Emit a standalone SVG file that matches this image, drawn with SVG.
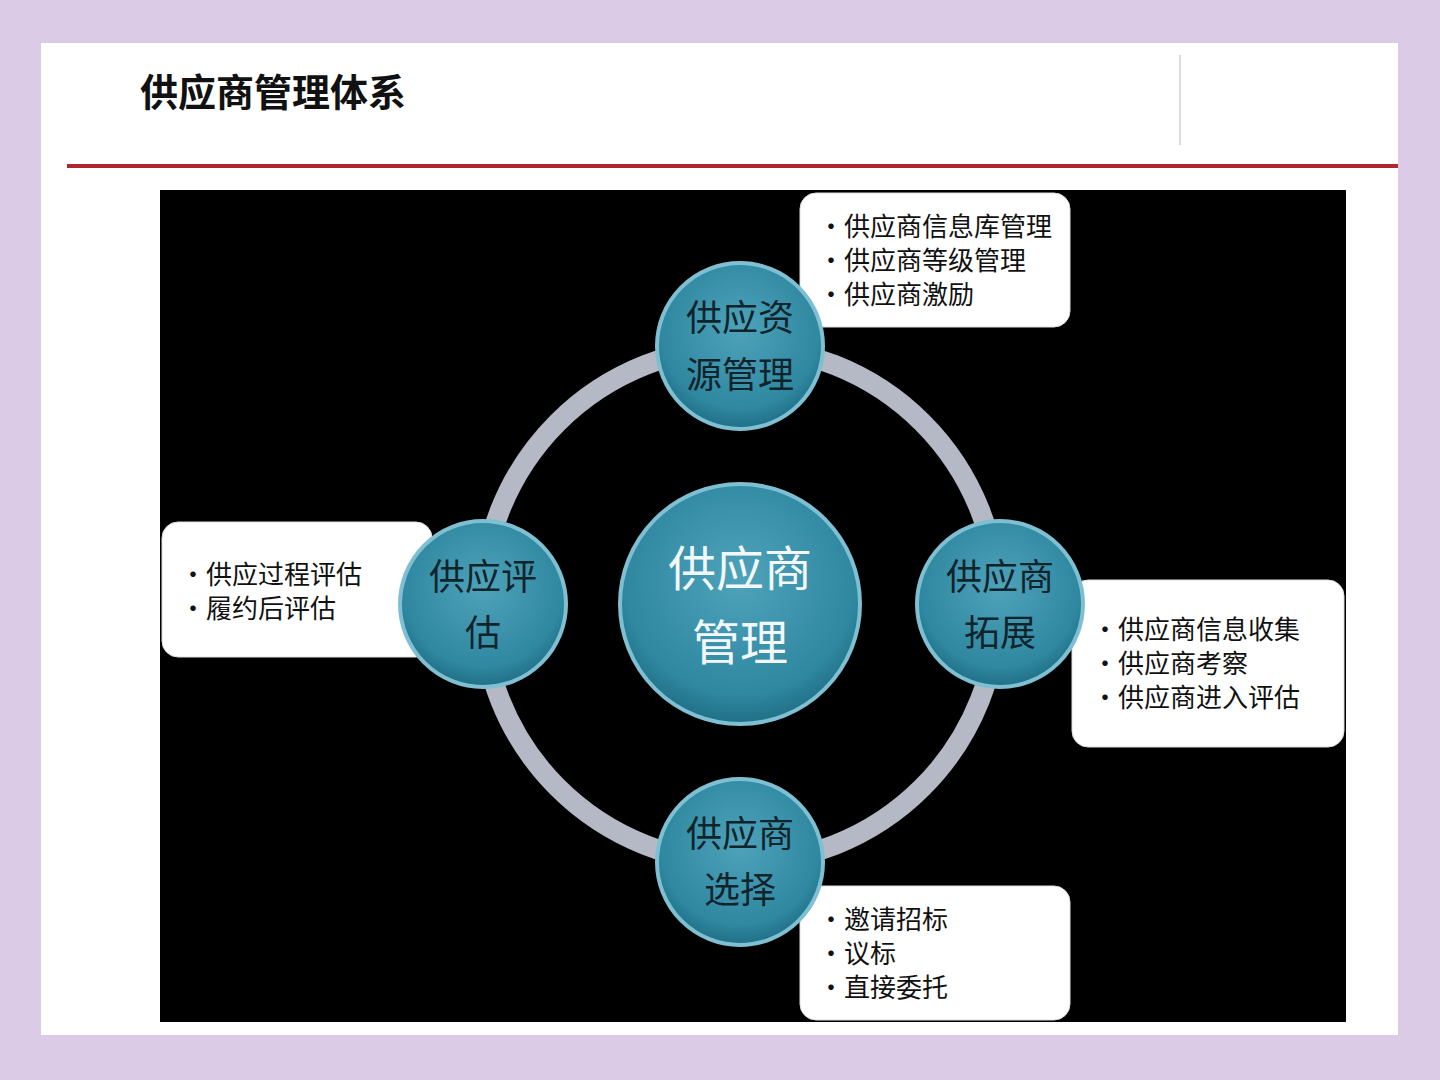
<svg xmlns="http://www.w3.org/2000/svg" width="1440" height="1080" viewBox="0 0 1440 1080">
<style>
.box{fill:#fff;stroke:#ddd;stroke-width:1}
.bt{font-family:"Noto Sans CJK SC",sans-serif;font-size:26px;fill:#111}
.ct{font-family:"Noto Sans CJK SC",sans-serif;font-size:36px;fill:#10242c;text-anchor:middle}
.node{fill:url(#g);stroke:#7fbfd2;stroke-width:4}
</style>
<defs>
<radialGradient id="g" cx="0.5" cy="0.4" r="0.6">
<stop offset="0" stop-color="#4ea3ba"/><stop offset="0.8" stop-color="#2f87a0"/><stop offset="1" stop-color="#1f6f86"/>
</radialGradient>
</defs>
<rect width="1440" height="1080" fill="#dccbe6"/>
<rect x="41" y="43" width="1357" height="992" fill="#fff"/>
<text x="140" y="106" font-family="Noto Sans CJK SC,sans-serif" font-size="38" font-weight="bold" fill="#111">供应商管理体系</text>
<line x1="1180" y1="55" x2="1180" y2="145" stroke="#ddd" stroke-width="2"/>
<line x1="67" y1="166" x2="1398" y2="166" stroke="#b0262c" stroke-width="4"/>
<rect x="160" y="190" width="1186" height="832" fill="#000"/>
<g id="connectors">
<circle cx="740" cy="605" r="258" fill="none" stroke="#b5b9c6" stroke-width="20"/>
</g>
<g id="box-top"><rect class="box" x="800" y="193" width="270" height="134" rx="16"/>
<text class="bt" x="818" y="236">•供应商信息库管理</text><text class="bt" x="818" y="270">•供应商等级管理</text><text class="bt" x="818" y="304">•供应商激励</text></g>
<g id="box-left"><rect class="box" x="162" y="522" width="270" height="135" rx="16"/>
<text class="bt" x="180" y="584">•供应过程评估</text><text class="bt" x="180" y="618">•履约后评估</text></g>
<g id="box-right"><rect class="box" x="1072" y="580" width="272" height="167" rx="16"/>
<text class="bt" x="1092" y="639">•供应商信息收集</text><text class="bt" x="1092" y="673">•供应商考察</text><text class="bt" x="1092" y="707">•供应商进入评估</text></g>
<g id="box-bottom"><rect class="box" x="800" y="886" width="270" height="134" rx="16"/>
<text class="bt" x="818" y="929">•邀请招标</text><text class="bt" x="818" y="963">•议标</text><text class="bt" x="818" y="997">•直接委托</text></g>
<g id="center"><circle class="node" cx="740" cy="604" r="120"/>
<text class="ct" x="740" y="586" font-size="48" fill="#fff" style="font-size:48px;fill:#f2f8fa">供应商</text><text class="ct" x="740" y="660" style="font-size:48px;fill:#f2f8fa">管理</text></g>
<g id="n-top"><circle class="node" cx="740" cy="346" r="83"/>
<text class="ct" x="740" y="331">供应资</text><text class="ct" x="740" y="388">源管理</text></g>
<g id="n-left"><circle class="node" cx="483" cy="604" r="83"/>
<text class="ct" x="483" y="590">供应评</text><text class="ct" x="483" y="646">估</text></g>
<g id="n-right"><circle class="node" cx="1000" cy="604" r="83"/>
<text class="ct" x="1000" y="590">供应商</text><text class="ct" x="1000" y="646">拓展</text></g>
<g id="n-bottom"><circle class="node" cx="740" cy="862" r="83"/>
<text class="ct" x="740" y="847">供应商</text><text class="ct" x="740" y="903">选择</text></g>
</svg>
